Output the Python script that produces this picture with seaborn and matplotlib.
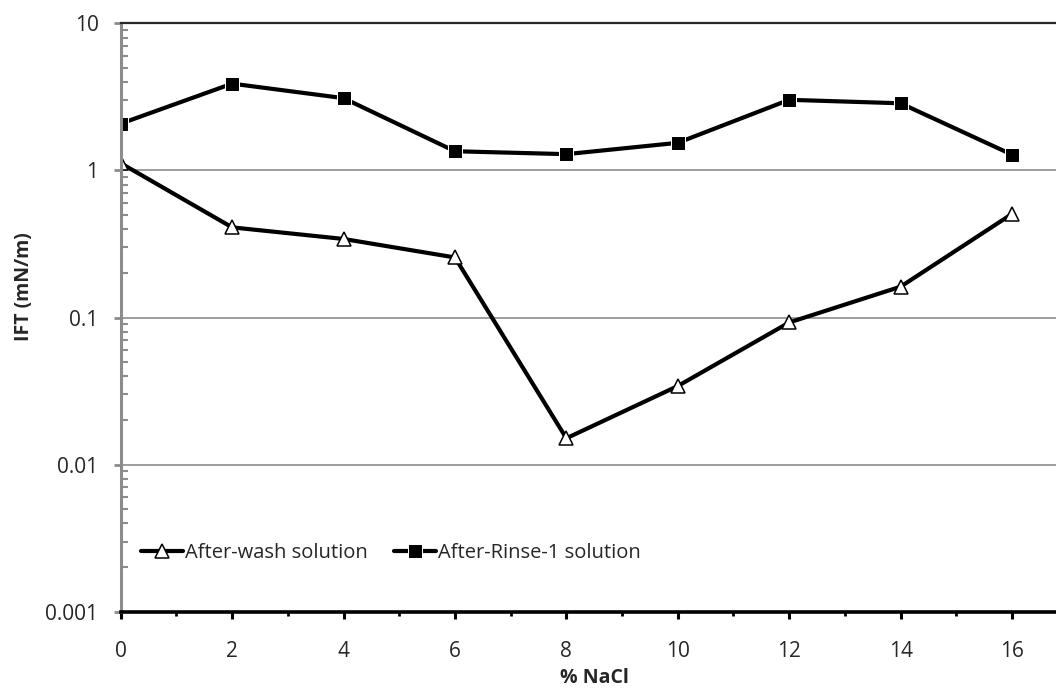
import numpy as np
import pandas as pd
import matplotlib
matplotlib.use("Agg")
import matplotlib.pyplot as plt
import seaborn as sns
from matplotlib.ticker import FixedLocator, LogLocator, NullFormatter

# dados
nacl = [0, 2, 4, 6, 8, 10, 12, 14, 16]
after_wash = [1.12, 0.41, 0.342, 0.256, 0.0151, 0.0342, 0.0925, 0.162, 0.506]
after_rinse1 = [2.08, 3.89, 3.10, 1.35, 1.29, 1.54, 3.02, 2.86, 1.28]
y_ticks = [0.001, 0.01, 0.1, 1, 10]
y_tick_labels = ["0.001", "0.01", "0.1", "1", "10"]

sns.set_style("white")
plt.rcParams['font.family'] = ['Open Sans', 'DejaVu Sans']

df = pd.DataFrame({
    "NaCl": nacl * 2,
    "IFT": after_wash + after_rinse1,
    "serie": ["After-wash solution"] * len(nacl) + ["After-Rinse-1 solution"] * len(nacl),
})

fig = plt.figure(figsize=(10.56, 6.88), dpi=100)
ax = fig.add_axes([0.1143, 0.1109, 0.8857, 0.8552])

sns.lineplot(data=df, x="NaCl", y="IFT", hue="serie", style="serie",
             palette=["black", "black"], markers=["^", "s"], dashes=False,
             linewidth=3, markersize=10, ax=ax, legend=False)

# marcadores: triangulo vazado, quadrado cheio
ln_wash, ln_rinse = ax.lines[0], ax.lines[1]
ln_wash.set_markerfacecolor("white")
ln_wash.set_markeredgecolor("black")
ln_wash.set_markeredgewidth(1.1)
ln_wash.set_markersize(9.5)
ln_rinse.set_markerfacecolor("black")
ln_rinse.set_markersize(10)

ax.set_yscale("log")
ax.set_ylim(0.001, 10)
ax.set_xlim(0, 16.79)

ax.set_yticks(y_ticks)
ax.set_yticklabels(y_tick_labels)
ax.yaxis.set_minor_locator(LogLocator(base=10, subs=np.arange(2, 10)))
ax.yaxis.set_minor_formatter(NullFormatter())
ax.set_xticks(nacl)
ax.xaxis.set_minor_locator(FixedLocator(np.arange(1, 17, 2)))

ax.grid(True, axis="y", which="major", color="#8c8c8c", linewidth=1.2)
ax.set_axisbelow(True)

ax.spines["right"].set_visible(False)
ax.spines["top"].set_color("#262626")
ax.spines["top"].set_linewidth(1.6)
ax.spines["left"].set_color("#8c8c8c")
ax.spines["left"].set_linewidth(2.2)
ax.spines["bottom"].set_color("black")
ax.spines["bottom"].set_linewidth(2.6)

ax.tick_params(axis="y", which="major", left=True, direction="out", length=5, width=2,
               color="#8c8c8c", labelsize=15, pad=11)
ax.tick_params(axis="y", which="minor", left=True, direction="in", length=5, width=1.5,
               color="#8c8c8c")
ax.tick_params(axis="x", which="major", bottom=True, direction="out", length=5, width=2.2,
               color="black", labelsize=15, pad=16)
ax.tick_params(axis="x", which="minor", bottom=True, direction="out", length=3, width=2,
               color="black")

ax.set_xlabel("% NaCl", fontsize=14, fontweight="bold")
ax.set_ylabel("IFT (mN/m)", fontsize=14, fontweight="bold")
ax.xaxis.set_label_coords(0.506, -0.113)
ax.xaxis.label.set_va("center")
ax.yaxis.set_label_coords(-0.103, 0.552)
ax.yaxis.label.set_va("center")

leg = ax.legend([ln_wash, ln_rinse], ["After-wash solution", "After-Rinse-1 solution"],
                loc="center left", bbox_to_anchor=(0.0, 0.10), ncol=2, frameon=False,
                fontsize=14.5, handlelength=2.1, handletextpad=0.1, columnspacing=1.3,
                borderaxespad=0.6)

fig.savefig("out.png", dpi=100)
